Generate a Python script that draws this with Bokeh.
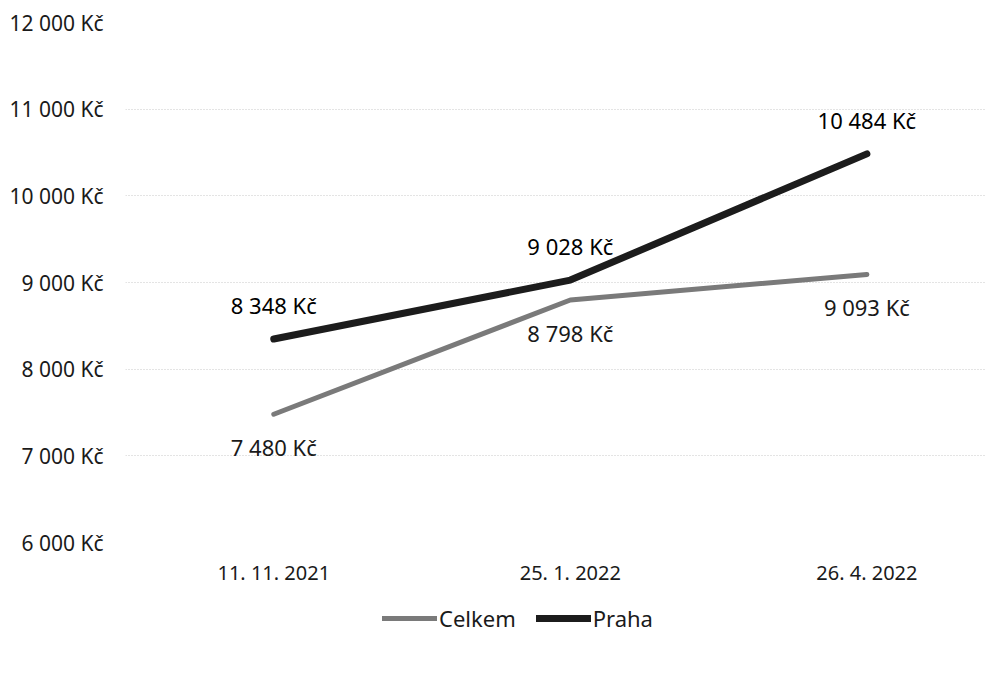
from bokeh.plotting import figure
from bokeh.layouts import column
from bokeh.models import FixedTicker, Legend, LegendItem, CustomJSTickFormatter
from bokeh.core.properties import value
from bokeh.embed import file_html
from bokeh.resources import INLINE

dates = ["11. 11. 2021", "25. 1. 2022", "26. 4. 2022"]
celkem = [7480, 8798, 9093]
praha = [8348, 9028, 10484]
celkem_labels = ["7 480 Kč", "8 798 Kč", "9 093 Kč"]
praha_labels = ["8 348 Kč", "9 028 Kč", "10 484 Kč"]
y_ticks = [6000, 7000, 8000, 9000, 10000, 11000, 12000]

xs = list(range(len(dates)))
FONT = "Noto Sans"
C_CELKEM = "#7a7a7a"
C_PRAHA = "#1c1c1c"

p = figure(width=991, height=600, output_backend="svg", toolbar_location=None,
           x_range=(-0.5, 2.4), y_range=(6000, 12000),
           min_border_left=125, min_border_right=6, min_border_top=22, min_border_bottom=58)
p.outline_line_color = None
p.background_fill_color = "white"

p.xgrid.grid_line_color = None
p.ygrid.grid_line_color = "#c8c8c8"
p.ygrid.grid_line_dash = "1 2"
p.ygrid.grid_line_width = 1

p.yaxis.ticker = FixedTicker(ticks=y_ticks)
p.yaxis.formatter = CustomJSTickFormatter(code="""
    const s = Math.round(tick).toString();
    return s.replace(/\\B(?=(\\d{3})+(?!\\d))/g, ' ') + ' Kč';
""")
p.xaxis.ticker = FixedTicker(ticks=xs)
p.xaxis.major_label_overrides = {i: d for i, d in enumerate(dates)}
for ax in (p.xaxis[0], p.yaxis[0]):
    ax.axis_line_color = None
    ax.major_tick_line_color = None
    ax.minor_tick_line_color = None
    ax.major_label_text_font = FONT
    ax.major_label_text_color = "#1a1a1a"
p.yaxis.major_label_text_font_size = "21px"
p.xaxis.major_label_text_font_size = "20px"
p.yaxis.major_label_standoff = 16
p.xaxis.major_label_standoff = 10

p.line(xs, celkem, line_color=C_CELKEM, line_width=5, line_cap="round", line_join="round")
p.line(xs, praha, line_color=C_PRAHA, line_width=7, line_cap="round", line_join="round")

p.text(xs, praha, text=praha_labels, text_align="center", text_baseline="middle",
       y_offset=-34, text_font=value(FONT), text_font_size="22px", text_color="#000000")
p.text(xs, celkem, text=celkem_labels, text_align="center", text_baseline="middle",
       y_offset=33, text_font=value(FONT), text_font_size="22px", text_color="#1a1a1a")

# legend strip below the chart
p2 = figure(width=991, height=45, output_backend="svg", toolbar_location=None,
            x_range=(0, 1), y_range=(0, 1), min_border=0)
p2.outline_line_color = None
p2.axis.visible = False
p2.grid.visible = False
l_c = p2.line([-5, -4], [-5, -4], line_color=C_CELKEM, line_width=5, line_cap="round")
l_p = p2.line([-5, -4], [-5, -4], line_color=C_PRAHA, line_width=7, line_cap="round")
legend = Legend(items=[LegendItem(label="Celkem", renderers=[l_c]),
                       LegendItem(label="Praha", renderers=[l_p])],
                orientation="horizontal", location=(257, 12),
                glyph_width=55, glyph_height=20, spacing=20, label_standoff=2,
                label_text_font=FONT, label_text_font_size="22px", label_text_color="#1a1a1a",
                border_line_color=None, background_fill_alpha=0, margin=0, padding=0)
p2.add_layout(legend, "center")

layout = column(p, p2)
open("out.html", "w").write(file_html(layout, INLINE))
